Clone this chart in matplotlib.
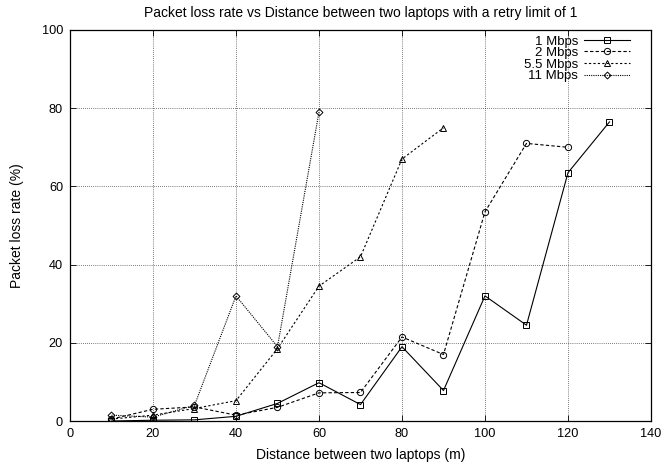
import matplotlib
matplotlib.use("Agg")
import matplotlib.pyplot as plt

plt.rcParams['font.family'] = ['Liberation Sans', 'DejaVu Sans']
plt.rcParams['font.size'] = 9.5

dist_1 = [10, 20, 30, 40, 50, 60, 70, 80, 90, 100, 110, 120, 130]
loss_1 = [0.0, 0.2, 0.3, 1.2, 4.5, 9.8, 4.2, 19.0, 7.8, 32.0, 24.5, 63.5, 76.5]

dist_2 = [10, 20, 30, 40, 50, 60, 70, 80, 90, 100, 110, 120]
loss_2 = [0.5, 3.0, 3.6, 1.5, 3.5, 7.2, 7.3, 21.5, 17.0, 53.5, 71.0, 70.0]

dist_55 = [10, 20, 30, 40, 50, 60, 70, 80, 90]
loss_55 = [0.5, 1.5, 3.2, 5.2, 18.5, 34.5, 42.0, 67.0, 75.0]

dist_11 = [10, 20, 30, 40, 50, 60]
loss_11 = [1.5, 1.0, 4.0, 32.0, 19.0, 79.0]

fig = plt.figure(figsize=(6.64, 4.68), dpi=100)
ax = fig.add_axes([0.1054, 0.1004, 0.875, 0.8355])

mk = dict(markersize=4.5, markerfacecolor='none', markeredgecolor='black',
          markeredgewidth=0.7, color='black', linewidth=0.8)
ax.plot(dist_1, loss_1, marker='s', linestyle='-', label='1 Mbps', **mk)
ax.plot(dist_2, loss_2, marker='o', linestyle=(0, (3, 2)), label='2 Mbps', **mk)
ax.plot(dist_55, loss_55, marker='^', linestyle=(0, (2, 2)), label='5.5 Mbps', **mk)
ax.plot(dist_11, loss_11, marker='D', linestyle=(0, (1, 1)), label='11 Mbps',
        **{**mk, 'markersize': 3.5})

ax.set_xlim(0, 140)
ax.set_ylim(0, 100)
ax.set_xticks(range(0, 141, 20))
ax.set_yticks(range(0, 101, 20))
ax.grid(True, color='black', linestyle=(0, (1, 2)), linewidth=0.5)
ax.tick_params(direction='in', top=True, right=True, length=4, width=0.6,
               labelsize=9.2, pad=5)
for s in ax.spines.values():
    s.set_linewidth(0.9)

ax.set_xlabel('Distance between two laptops (m)', fontsize=10, labelpad=6)
ax.set_ylabel('Packet loss rate (%)', fontsize=10, labelpad=13)
ax.set_title('Packet loss rate vs Distance between two laptops with a retry limit of 1',
             fontsize=10, pad=9)

ax.legend(loc='upper right', bbox_to_anchor=(0.9725, 1.0), frameon=False,
          markerfirst=False, fontsize=9.5, handlelength=3.5, handletextpad=0.4,
          labelspacing=-0.05, borderaxespad=0.0)

fig.savefig('out.png', dpi=100)
